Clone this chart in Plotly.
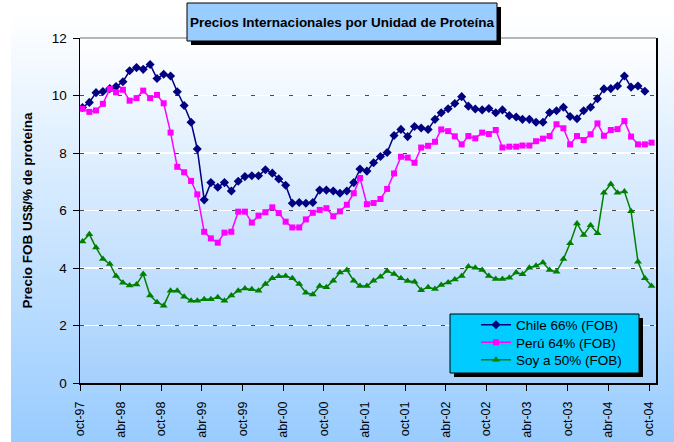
import base64, struct, zlib
import pandas as pd
import plotly.graph_objects as go

# ---------------- data ----------------
START = "1997-10-01"
CHILE = [9.58, 9.76, 10.10, 10.14, 10.24, 10.31, 10.48, 10.86, 10.97, 10.91, 11.08, 10.59, 10.74, 10.68,
         10.13, 9.65, 9.07, 8.14, 6.37, 6.97, 6.81, 6.97, 6.68, 7.02, 7.18, 7.21, 7.21, 7.42, 7.30, 7.10,
         6.88, 6.25, 6.28, 6.25, 6.28, 6.71, 6.71, 6.68, 6.60, 6.68, 6.97, 7.44, 7.37, 7.66, 7.88, 8.02,
         8.61, 8.82, 8.57, 8.92, 8.87, 8.82, 9.17, 9.40, 9.54, 9.72, 9.96, 9.63, 9.53, 9.50, 9.55, 9.40,
         9.50, 9.30, 9.25, 9.17, 9.17, 9.07, 9.07, 9.41, 9.47, 9.59, 9.27, 9.19, 9.47, 9.59, 9.89, 10.23,
         10.24, 10.33, 10.68, 10.29, 10.33, 10.15]
PERU = [9.54, 9.43, 9.48, 9.71, 10.23, 10.11, 10.20, 9.82, 9.91, 10.17, 9.91, 10.02, 9.73, 8.71, 7.52,
        7.33, 7.03, 6.56, 5.26, 5.03, 4.88, 5.23, 5.26, 5.96, 5.96, 5.58, 5.82, 5.94, 6.11, 5.91, 5.61,
        5.41, 5.41, 5.69, 5.92, 6.02, 6.08, 5.80, 5.97, 6.20, 6.60, 7.13, 6.22, 6.26, 6.40, 6.75, 7.29,
        7.87, 7.84, 7.66, 8.19, 8.25, 8.39, 8.82, 8.76, 8.58, 8.30, 8.59, 8.51, 8.71, 8.66, 8.80, 8.19,
        8.22, 8.22, 8.26, 8.26, 8.41, 8.50, 8.59, 9.00, 8.86, 8.30, 8.59, 8.45, 8.65, 9.03, 8.60, 8.80,
        8.83, 9.11, 8.57, 8.30, 8.30, 8.36]
SOYA = [4.92, 5.17, 4.71, 4.31, 4.14, 3.72, 3.49, 3.39, 3.43, 3.79, 3.04, 2.81, 2.69, 3.21, 3.21, 3.00,
        2.86, 2.86, 2.91, 2.91, 2.98, 2.86, 3.04, 3.21, 3.29, 3.26, 3.21, 3.44, 3.64, 3.71, 3.72, 3.64,
        3.44, 3.14, 3.08, 3.37, 3.33, 3.56, 3.84, 3.93, 3.56, 3.37, 3.37, 3.56, 3.70, 3.90, 3.79, 3.64,
        3.55, 3.52, 3.23, 3.33, 3.27, 3.41, 3.50, 3.60, 3.72, 4.05, 4.01, 3.93, 3.72, 3.62, 3.62, 3.66,
        3.84, 3.78, 4.01, 4.08, 4.19, 3.93, 3.87, 4.31, 4.86, 5.55, 5.15, 5.49, 5.21, 6.62, 6.92, 6.62,
        6.66, 5.97, 4.22, 3.64, 3.37]
SERIES_NAMES = ["Chile 66% (FOB)", "Perú 64% (FOB)", "Soy a 50% (FOB)"]
TICK_LABELS = ["oct-97", "abr-98", "oct-98", "abr-99", "oct-99", "abr-00", "oct-00", "abr-01",
               "oct-01", "abr-02", "oct-02", "abr-03", "oct-03", "abr-04", "oct-04"]
Y_TICKS = [0, 2, 4, 6, 8, 10, 12]
TITLE = "Precios Internacionales por Unidad de Proteína"
Y_TITLE = "Precio FOB US$/% de proteína"

# monthly points plotted mid-month, ticks at the start of the month
months = pd.date_range(START, periods=len(PERU), freq="MS")
x_pts = months + pd.Timedelta(days=11)
tickvals = pd.date_range(START, periods=len(TICK_LABELS), freq="6MS")

# ---------------- geometry helpers ----------------
W, H = 674, 442
L, R, T, B = 80, 656, 38, 383
px2x = lambda px: (px - L) / (R - L)
py2y = lambda py: (B - py) / (B - T)

FONT = "Liberation Sans, Arial, sans-serif"


def gradient_png(top, bottom, n=256, w=4):
    raw = b""
    for k in range(n):
        t = k / (n - 1)
        c = bytes(int(round(a + (b - a) * t)) for a, b in zip(top, bottom))
        raw += b"\x00" + c * w

    def chunk(tag, data):
        return (struct.pack(">I", len(data)) + tag + data +
                struct.pack(">I", zlib.crc32(tag + data) & 0xFFFFFFFF))

    png = (b"\x89PNG\r\n\x1a\n" +
           chunk(b"IHDR", struct.pack(">IIBBBBB", w, n, 8, 2, 0, 0, 0)) +
           chunk(b"IDAT", zlib.compress(raw)) + chunk(b"IEND", b""))
    return "data:image/png;base64," + base64.b64encode(png).decode()


fig = go.Figure()
styles = [
    dict(color="#000080", symbol="diamond", size=7),
    dict(color="#FF00FF", symbol="square", size=6),
    dict(color="#008000", symbol="triangle-up", size=7),
]
legends = ["legend", "legend2", "legend3"]
yaxes = ["y", "y", "y2"]
for name, vals, st, lg, ya in zip(SERIES_NAMES, [CHILE, PERU, SOYA], styles, legends, yaxes):
    fig.add_trace(go.Scatter(
        x=x_pts[:len(vals)], y=vals, name=name, mode="lines+markers",
        line=dict(color=st["color"], width=1.5),
        marker=dict(color=st["color"], symbol=st["symbol"], size=st["size"]),
        yaxis=ya, legend=lg, hoverinfo="skip"))

images = [
    dict(source=gradient_png((255, 255, 255), (153, 204, 255)), xref="paper", yref="paper",
         x=px2x(11), y=py2y(14), sizex=px2x(W) - px2x(11), sizey=py2y(14) - py2y(H),
         sizing="stretch", xanchor="left", yanchor="top", layer="below"),
    dict(source=gradient_png((255, 255, 255), (166, 208, 252)), xref="paper", yref="paper",
         x=0, y=1, sizex=1, sizey=1, sizing="stretch", xanchor="left", yanchor="top", layer="below"),
]


def rect(x0, y0, x1, y1, fill, line=None):
    return dict(type="rect", xref="paper", yref="paper", x0=px2x(x0), x1=px2x(x1),
                y0=py2y(y1), y1=py2y(y0), fillcolor=fill,
                line=dict(color=line or fill, width=1 if line else 0), layer="above")


shapes = [
    dict(type="line", xref="paper", yref="paper", x0=0, x1=1, y0=1, y1=1,
         line=dict(color="#6E6E6E", width=1), layer="above"),
    rect(191, 7, 501, 45, "#000000"),
    rect(187, 3, 497, 41, "#99CCFF", "#000000"),
    rect(454, 318, 643, 377, "#000000"),
    rect(450, 314, 639, 373, "#00CCFF", "#000000"),
]

legend_rows = [325, 342.5, 360]
leg_common = dict(bgcolor="rgba(0,0,0,0)", borderwidth=0, xanchor="left", yanchor="middle",
                  font=dict(family=FONT, size=13.5, color="#000000"), itemwidth=30)
leg_layout = {}
for lg, row in zip(legends, legend_rows):
    leg_layout[lg] = dict(leg_common, x=px2x(476), y=py2y(row))

fig.update_layout(
    width=W, height=H,
    margin=dict(l=L, r=W - R, t=T, b=H - B, autoexpand=False),
    paper_bgcolor="#FFFFFF", plot_bgcolor="rgba(0,0,0,0)",
    font=dict(family=FONT, size=13, color="#000000"),
    showlegend=True, hovermode=False,
    title=dict(text="<b>" + TITLE + "</b>", x=342 / W, xanchor="center", y=1 - 22 / H,
               yanchor="middle", font=dict(family=FONT, size=13.5, color="#000000")),
    xaxis=dict(type="date", range=[START, "2004-11-01"], tickmode="array",
               tickvals=tickvals, ticktext=TICK_LABELS, tickangle=-90,
               ticks="outside", ticklen=6, tickcolor="#000000", tickwidth=1,
               showline=True, linecolor="#000000", linewidth=1.5, showgrid=False,
               zeroline=False, ticklabelstandoff=6, automargin=False,
               tickfont=dict(family=FONT, size=12.5, color="#000000")),
    yaxis=dict(range=[0, 12], tickmode="array", tickvals=Y_TICKS,
               ticks="outside", ticklen=6, tickcolor="#000000", tickwidth=1,
               showline=True, mirror=True, linecolor="#000000", linewidth=1.5,
               showgrid=True, gridcolor="#FFFFFF", gridwidth=1.5, zeroline=False,
               ticklabelstandoff=3, automargin=False,
               tickfont=dict(family=FONT, size=13.5, color="#000000"),
               title=dict(text="<b>" + Y_TITLE + "</b>", standoff=16,
                          font=dict(family=FONT, size=13.5, color="#000000"))),
    yaxis2=dict(range=[0, 12], overlaying="y", side="left", tickmode="array", tickvals=Y_TICKS,
                showticklabels=False, ticks="", showline=False, zeroline=False, automargin=False,
                showgrid=True, gridcolor="#4A4A4A", gridwidth=1, griddash="4px,15px"),
    images=images, shapes=shapes,
    **leg_layout,
)

fig.write_html("out.html", config={"displayModeBar": False, "staticPlot": True},
               post_script="document.body.style.margin='0';document.body.style.overflow='hidden';")
